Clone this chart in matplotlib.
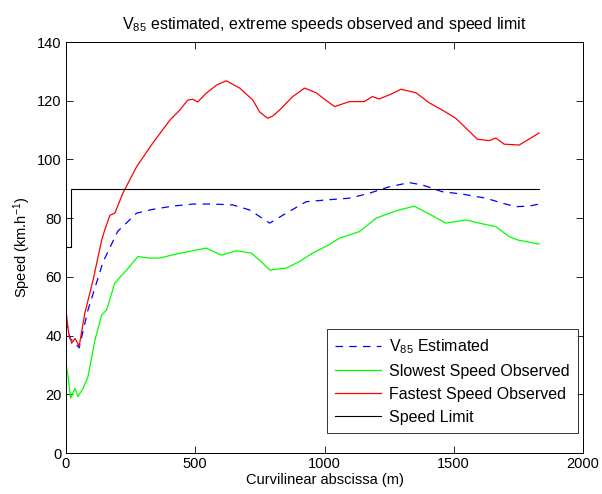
import matplotlib
matplotlib.use("Agg")
import matplotlib.pyplot as plt

plt.rcParams['font.family'] = ['Liberation Sans', 'DejaVu Sans']
plt.rcParams['mathtext.fontset'] = 'custom'
plt.rcParams['mathtext.rm'] = 'Liberation Sans'
plt.rcParams['mathtext.it'] = 'Liberation Sans'

# Fastest speed observed (red)
fast_x = [0, 10, 22, 35, 51, 73, 105, 138, 150, 170, 189, 220, 273, 336, 402, 440, 471, 490, 510, 543,
          582, 620, 672, 723, 749, 780, 800, 826, 877, 923, 968, 1000, 1039, 1097, 1154, 1185, 1212, 1251,
          1296, 1354, 1405, 1456, 1508, 1547, 1591, 1637, 1663, 1695, 1753, 1791, 1830]
fast_y = [48.5, 41, 37.4, 39, 36.4, 47.7, 59, 72.5, 76, 81, 81.7, 88.5, 97.5, 105.6, 113.4, 116.8,
          120.2, 120.5, 119.6, 122.6, 125.3, 126.8, 124.3, 120.2, 116.2, 114, 114.8, 116.8, 121.4, 124.3,
          122.7, 120.5, 118, 119.7, 119.7, 121.4, 120.6, 122, 123.9, 122.7, 119.3, 116.8, 114, 110.7,
          106.9, 106.4, 107.3, 105.2, 104.9, 106.9, 109]

# V85 estimated (blue dashed)
v85_x = [0, 15, 30, 51, 85, 143, 200, 273, 336, 413, 490, 568, 645, 710, 788, 852, 929, 1006,
         1097, 1174, 1251, 1328, 1379, 1456, 1533, 1624, 1688, 1740, 1791, 1830]
v85_y = [45, 39, 38, 35.8, 48.7, 65, 75.5, 81.7, 83, 84.1, 84.8, 84.8, 84.5, 82.8, 78.3, 81.7,
         85.6, 86.2, 86.8, 88.5, 90.7, 92.1, 91.3, 89, 88.2, 86.8, 85.1, 83.9, 84.1, 84.8]

# Slowest speed observed (green)
slow_x = [0, 8, 18, 35, 46, 66, 85, 112, 138, 157, 189, 234, 278, 324, 363, 427, 490, 543, 601,
          659, 717, 755, 788, 852, 903, 954, 1015, 1058, 1135, 1200, 1277, 1347, 1405, 1470, 1547,
          1598, 1663, 1714, 1750, 1830]
slow_y = [30.6, 26, 18.7, 22, 19.2, 22, 26, 38.5, 47, 48.7, 57.9, 62.3, 66.9, 66.4, 66.4, 67.8,
          68.9, 69.8, 67.4, 68.9, 68.1, 65.2, 62.3, 63, 65.2, 68.1, 70.8, 73.2, 75.4, 80, 82.5,
          84.1, 81.4, 78.3, 79.4, 78.3, 77.1, 73.7, 72.5, 71.2]

# Speed limit (black)
limit_x = [0, 20, 20, 1830]
limit_y = [70, 70, 90, 90]

fig = plt.figure(figsize=(6.02, 4.94), dpi=100)
ax = fig.add_axes([66/602, 41/494, 517/602, 411/494])

ax.plot(v85_x, v85_y, color='#0000ff', lw=0.9, dashes=(6, 5), label='V$_{85}$ Estimated')
ax.plot(slow_x, slow_y, color='#00ff00', lw=0.9, label='Slowest Speed Observed')
ax.plot(fast_x, fast_y, color='#ff0000', lw=0.9, label='Fastest Speed Observed')
ax.plot(limit_x, limit_y, color='black', lw=0.8, label='Speed Limit')

ax.set_xlim(0, 2000)
ax.set_ylim(0, 140)
ax.set_xticks([0, 500, 1000, 1500, 2000])
ax.set_yticks(range(0, 141, 20))
ax.tick_params(direction='in', top=True, right=True, labelsize=10.5, length=5, width=0.6, pad=3)
for s in ax.spines.values():
    s.set_linewidth(0.7)

ax.set_xlabel('Curvilinear abscissa (m)', fontsize=10.5, labelpad=1)
ax.set_ylabel('Speed (km.h$^{-1}$)', fontsize=10.5, labelpad=3)
ax.set_title('V$_{85}$ estimated, extreme speeds observed and speed limit', fontsize=11.5, pad=9)

leg = ax.legend(loc='lower right', fontsize=11.5, frameon=True, fancybox=False, edgecolor='black',
                borderaxespad=0.0, handlelength=2.9, handletextpad=0.5, borderpad=0.5,
                labelspacing=0.5, bbox_to_anchor=(0.990, 0.049))
leg.get_frame().set_linewidth(0.7)

fig.savefig('out.png', dpi=100)
